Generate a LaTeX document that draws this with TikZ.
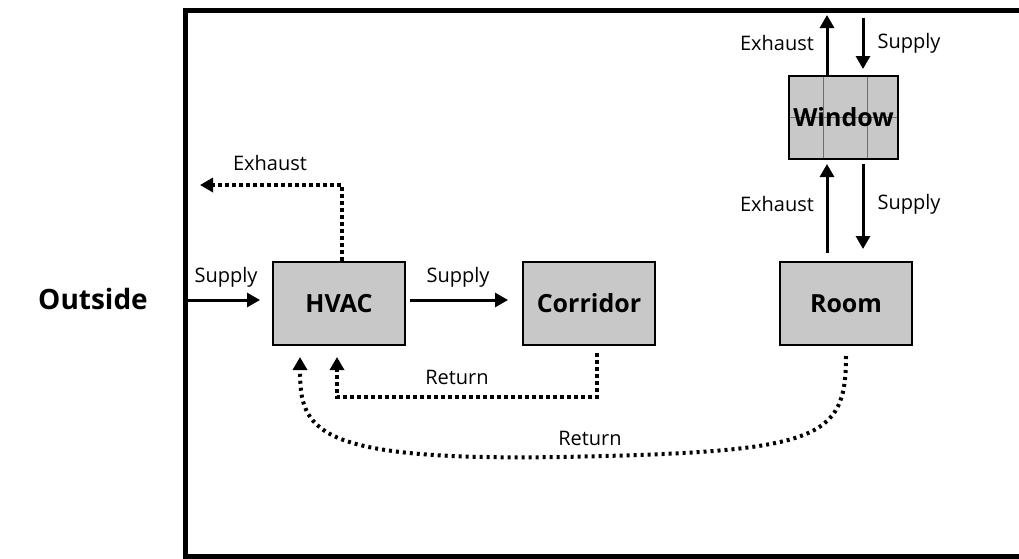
\documentclass[tikz,border=0pt]{standalone}
\usepackage{fontspec}
\setmainfont{Open Sans}
\usetikzlibrary{positioning, arrows.meta, calc}
\definecolor{boxfill}{RGB}{200,200,200}
\definecolor{paneline}{RGB}{110,110,110}
\tikzset{
  block/.style={rectangle, draw, line width=1pt, fill=boxfill, minimum width=66pt, minimum height=41.5pt, inner sep=0pt, font=\fontsize{12.5}{14}\selectfont\bfseries},
  lbl/.style={font=\fontsize{10}{12}\selectfont, inner sep=1pt},
  flow/.style={line width=1.5pt, -{Triangle[length=6.5pt,width=7pt]}},
  ret/.style={line width=2.3pt, dash pattern=on 2pt off 1.5pt, -{Triangle[length=6.5pt,width=7pt]}},
  longret/.style={line width=2pt, dash pattern=on 1.5pt off 2pt, -{Triangle[length=6.5pt,width=7pt]}},
}

\begin{document}
\begin{tikzpicture}[x=0.5pt, y=-0.5pt]
\useasboundingbox (0,0) rectangle (1019,558);
\draw[line width=2.5pt] (1040,10) -- (185.5,10) -- (185.5,556) -- (1040,556);

\node[font=\fontsize{14}{16}\selectfont\bfseries] (outside) at (93,299) {Outside};

\node[block] (hvac) at (339,303.5) {HVAC};
\node[block] (corridor) at (589,303.5) {Corridor};
\node[block] (room) at (846,303.5) {Room};
\node[block, minimum width=54.5pt,
  path picture={
    \draw[paneline, line width=0.5pt]
      ($(path picture bounding box.north west)!.32!(path picture bounding box.north east)$) --
      ($(path picture bounding box.south west)!.32!(path picture bounding box.south east)$)
      ($(path picture bounding box.north west)!.72!(path picture bounding box.north east)$) --
      ($(path picture bounding box.south west)!.72!(path picture bounding box.south east)$)
      (path picture bounding box.west) -- (path picture bounding box.east);
  }] (window) at (843.5,117.5) {Window};

\coordinate (inlet) at (187,300);
\coordinate (exout) at (200,185);
\coordinate (cret) at (597,397);
\coordinate (hret1) at (337,357);
\coordinate (hret2) at (300,357);
\coordinate (wex) at (827,15);
\coordinate (wsup) at (863,18);

\draw[flow, shorten >=6pt] (inlet) -- (inlet -| hvac.west);
\draw[flow, shorten <=2pt, shorten >=7pt] (hvac.east |- inlet) -- (corridor.west |- inlet);
\draw[ret] (hvac.north -| 342,0) -- (342,185) -- (exout);
\draw[ret, shorten <=3.5pt] (corridor.south -| cret) -- (cret) -- (cret -| hret1) -- (hret1);
\draw[longret, shorten <=5pt] (room.south) .. controls (846,440) and (820,452) .. (560,457)
  .. controls (312,461) and (300,430) .. (hret2);

\draw[flow] (window.north -| wex) -- (wex);
\draw[flow, shorten >=3pt] (wsup) -- (wsup |- window.north);
\draw[flow, shorten <=4pt, shorten >=2pt] (room.north -| wex) -- (wex |- window.south);
\draw[flow, shorten <=2pt, shorten >=6pt] (wsup |- window.south) -- (wsup |- room.north);

\node[lbl] (supin) at (226,277) {Supply};
\node[lbl] (supmid) at (458,277) {Supply};
\node[lbl] (exhvac) at (270,163) {Exhaust};
\node[lbl] (retc) at (457,377) {Return};
\node[lbl] (retr) at (590,438) {Return};
\node[lbl] (extop) at (777,43) {Exhaust};
\node[lbl] (suptop) at (909,43) {Supply};
\node[lbl] (exlow) at (777,204) {Exhaust};
\node[lbl] (suplow) at (909,204) {Supply};
\end{tikzpicture}
\end{document}
